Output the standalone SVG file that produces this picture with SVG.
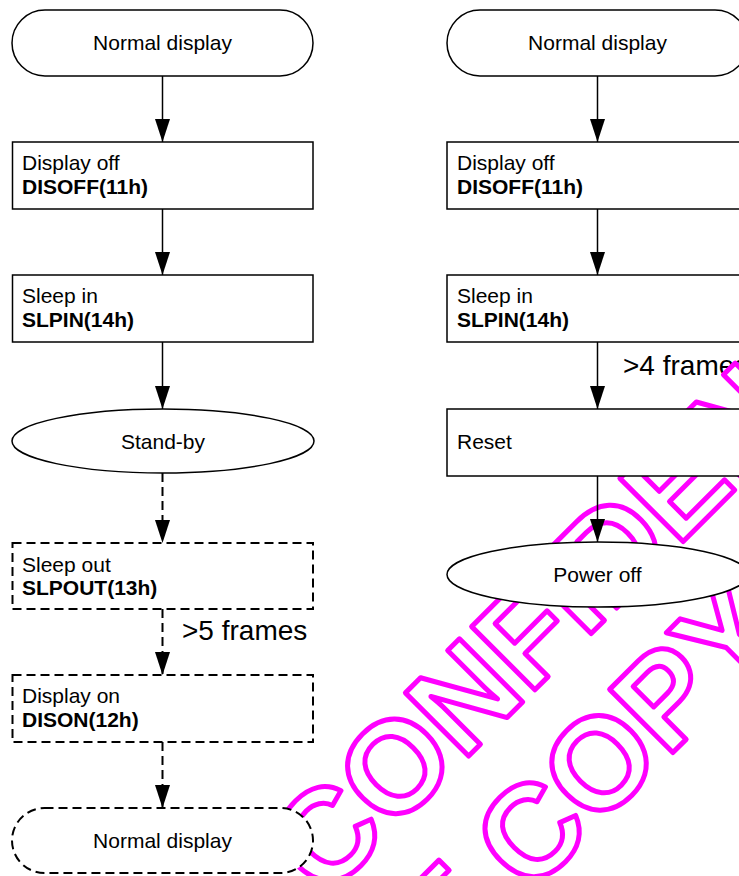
<svg xmlns="http://www.w3.org/2000/svg" width="739" height="876" viewBox="0 0 739 876">
  <style>
    .shape { fill:#fff; stroke:#000; stroke-width:1.5; }
    .dash { stroke-dasharray:9 5; stroke-width:2; }
    .t { font-family:"Liberation Sans", Arial, Helvetica, sans-serif; font-size:21px; fill:#000; }
    .b { font-weight:bold; }
    .mid { text-anchor:middle; }
    .lbl { font-family:"Liberation Sans", Arial, Helvetica, sans-serif; font-size:28px; fill:#000; }
    .conn { stroke:#000; stroke-width:1.5; fill:none; marker-end:url(#arrow); }
    .conn.dash { stroke-width:2; }
    .wm { font-family:"Liberation Sans", Arial, Helvetica, sans-serif; font-weight:bold; font-size:130px; fill:#fff; stroke:#ff00ff; stroke-width:5; stroke-linejoin:round; }
  </style>
  <defs>
    <marker id="arrow" viewBox="0 0 23 15" refX="23" refY="7.5" markerWidth="23" markerHeight="15" markerUnits="userSpaceOnUse" orient="auto">
      <path d="M0,0 L23,7.5 L0,15 Z" fill="#000" stroke="none"/>
    </marker>
  </defs>
  <rect width="739" height="876" fill="#fff"/>

  <g id="edge-labels">
    <text class="lbl" x="182" y="640">&gt;5 frames</text>
    <text class="lbl" x="623" y="375">&gt;4 frames</text>
  </g>

  <g id="watermark" transform="rotate(-45)">
    <text class="wm" x="-407" y="866">CONFIDENTIAL</text>
    <text class="wm" y="1008"><tspan x="-802">DO NOT</tspan><tspan x="-260">COPY</tspan></text>
  </g>

  <g id="connectors">
    <line class="conn" x1="162.5" y1="76" x2="162.5" y2="142"/>
    <line class="conn" x1="162.5" y1="209" x2="162.5" y2="275"/>
    <line class="conn" x1="162.5" y1="342" x2="162.5" y2="409"/>
    <line class="conn dash" x1="162.5" y1="473" x2="162.5" y2="543"/>
    <line class="conn dash" x1="162.5" y1="609" x2="162.5" y2="675"/>
    <line class="conn dash" x1="162.5" y1="742" x2="162.5" y2="808"/>
    <line class="conn" x1="597.5" y1="76" x2="597.5" y2="142"/>
    <line class="conn" x1="597.5" y1="209" x2="597.5" y2="275"/>
    <line class="conn" x1="597.5" y1="342" x2="597.5" y2="409"/>
    <line class="conn" x1="597.5" y1="476" x2="597.5" y2="542"/>
  </g>

  <g id="L-normal-display">
    <rect class="shape" x="12" y="10" width="301" height="66" rx="33"/>
    <text class="t mid" x="162.5" y="50">Normal display</text>
  </g>
  <g id="L-display-off">
    <rect class="shape" x="12.5" y="142" width="300.5" height="67"/>
    <text class="t" x="22" y="170">Display off</text>
    <text class="t b" x="22" y="194">DISOFF(11h)</text>
  </g>
  <g id="L-sleep-in">
    <rect class="shape" x="12.5" y="275" width="300.5" height="67"/>
    <text class="t" x="22" y="303">Sleep in</text>
    <text class="t b" x="22" y="327">SLPIN(14h)</text>
  </g>
  <g id="L-standby">
    <ellipse class="shape" cx="163" cy="441" rx="151" ry="32"/>
    <text class="t mid" x="163" y="449">Stand-by</text>
  </g>
  <g id="L-sleep-out">
    <rect class="shape dash" x="12.5" y="543" width="300.5" height="66"/>
    <text class="t" x="22" y="572">Sleep out</text>
    <text class="t b" x="22" y="595">SLPOUT(13h)</text>
  </g>
  <g id="L-display-on">
    <rect class="shape dash" x="12.5" y="675" width="300.5" height="67"/>
    <text class="t" x="22" y="703">Display on</text>
    <text class="t b" x="22" y="727">DISON(12h)</text>
  </g>
  <g id="L-normal-display-2">
    <rect class="shape dash" x="12" y="808" width="301" height="65" rx="32.5"/>
    <text class="t mid" x="162.5" y="848">Normal display</text>
  </g>

  <g id="R-normal-display">
    <rect class="shape" x="447" y="10" width="301" height="66" rx="33"/>
    <text class="t mid" x="597.5" y="50">Normal display</text>
  </g>
  <g id="R-display-off">
    <rect class="shape" x="447" y="142" width="301" height="67"/>
    <text class="t" x="457" y="170">Display off</text>
    <text class="t b" x="457" y="194">DISOFF(11h)</text>
  </g>
  <g id="R-sleep-in">
    <rect class="shape" x="447" y="275" width="301" height="67"/>
    <text class="t" x="457" y="303">Sleep in</text>
    <text class="t b" x="457" y="327">SLPIN(14h)</text>
  </g>
  <g id="R-reset">
    <rect class="shape" x="447" y="409" width="301" height="67"/>
    <text class="t" x="457" y="449">Reset</text>
  </g>
  <g id="R-power-off">
    <ellipse class="shape" cx="597.5" cy="574.5" rx="150.5" ry="32.5"/>
    <text class="t mid" x="597.5" y="582">Power off</text>
  </g>
</svg>
